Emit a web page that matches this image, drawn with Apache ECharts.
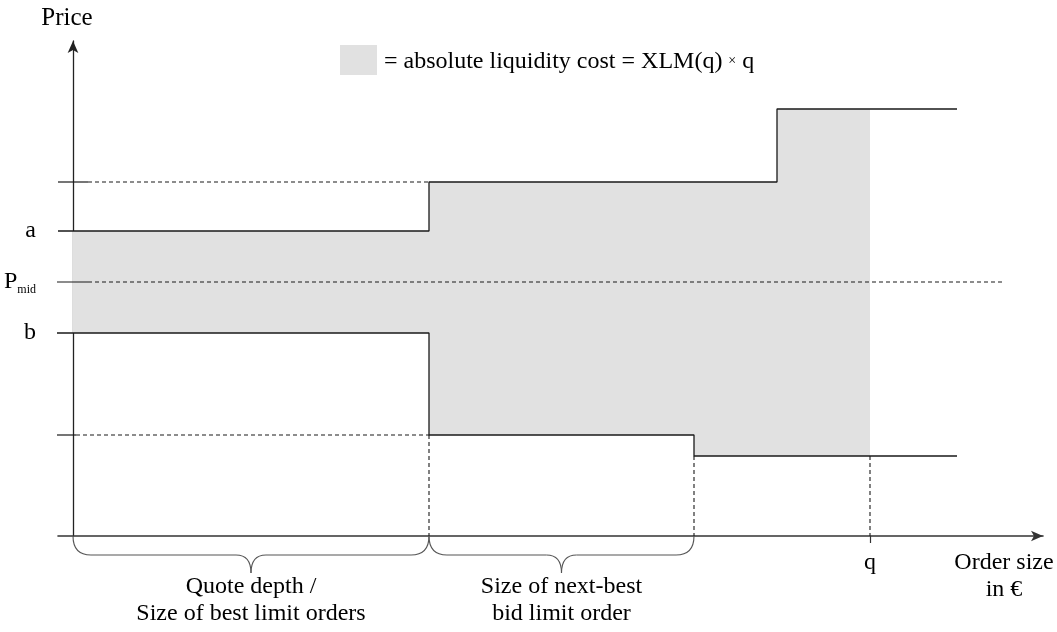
<!DOCTYPE html>
<html>
<head>
<meta charset="utf-8">
<script src="https://cdn.jsdelivr.net/npm/echarts@6/dist/echarts.min.js"></script>
<style>html,body{margin:0;padding:0;background:#fff;}#c{width:1057px;height:632px;}</style>
</head>
<body>
<div id="c"></div>
<script>
// ---- data (schematic units) ----
const askPrices = [61, 70.8, 85.4];      // a, next-best ask, third ask
const bidPrices = [40.6, 20.2, 16];      // b, next-best bid, third bid
const midPrice = 50.8;                   // P_mid
const askSteps = [35.6, 70.4];           // cumulative size where ask level changes
const bidSteps = [35.6, 62.1];           // cumulative size where bid level changes
const qSize = 79.7;                      // order size q
const bookEnd = 88.4;                    // end of drawn order book
const midEnd = 93.2;                     // end of P_mid guide
const yTickValues = [askPrices[0], midPrice, bidPrices[0]];
const yTickLabels = ['a', 'P{sub|mid}', 'b'];
const xTickValues = [qSize];
const xTickLabels = ['q'];
const braceRanges = [[0, bidSteps[0]], [bidSteps[0], bidSteps[1]]];
const braceLabels = ['Quote depth /\nSize of best limit orders', 'Size of next-best\nbid limit order'];
const legendText = '= absolute liquidity cost = XLM(q) {s|×} q';

const SERIF = "'Liberation Serif','Times New Roman',serif";
const LINE = '#1a1a1a';
const FILL = '#e1e1e1';
const FS = 24;

function askAt(x){ let i=0; while(i<askSteps.length && x>askSteps[i]) i++; return askPrices[i]; }
function bidAt(x){ let i=0; while(i<bidSteps.length && x>bidSteps[i]) i++; return bidPrices[i]; }

const askLine = [[-1.5, askPrices[0]], [askSteps[0], askPrices[0]], [askSteps[0], askPrices[1]],
                 [askSteps[1], askPrices[1]], [askSteps[1], askPrices[2]], [bookEnd, askPrices[2]]];
const bidLine = [[-2, bidPrices[0]], [bidSteps[0], bidPrices[0]], [bidSteps[0], bidPrices[1]],
                 [bidSteps[1], bidPrices[1]], [bidSteps[1], bidPrices[2]], [bookEnd, bidPrices[2]]];

// fill blocks between ask and bid up to q
const edges = [0].concat(askSteps, bidSteps).filter((v,i,a)=>a.indexOf(v)===i && v<qSize).sort((p,q)=>p-q).concat([qSize]);
const fillBlocks = [];
for (let i=0;i<edges.length-1;i++){ const m=(edges[i]+edges[i+1])/2; fillBlocks.push([edges[i], edges[i+1], bidAt(m), askAt(m)]); }

const dashed = [
  [[1.5, askPrices[1]], [askSteps[0], askPrices[1]]],
  [[1.5, midPrice], [midEnd, midPrice]],
  [[0.3, bidPrices[1]], [bidSteps[0], bidPrices[1]]],
  [[bidSteps[0], bidPrices[1]], [bidSteps[0], 0]],
  [[bidSteps[1], bidPrices[2]], [bidSteps[1], 0]],
  [[qSize, bidPrices[2]], [qSize, 0]]
];
const solidTicks = [
  [[-1.5, askPrices[1]], [1.5, askPrices[1]]],
  [[-1.8, midPrice], [1.5, midPrice]],
  [[-2.5, bidPrices[1]], [0.3, bidPrices[1]]]
];

const series = [];
series.push({
  name: legendText, type: 'custom', z: 1, clip: false,
  itemStyle: { color: FILL },
  data: fillBlocks,
  renderItem: function(params, api){
    const p0 = api.coord([api.value(0), api.value(3)]);
    const p1 = api.coord([api.value(1), api.value(2)]);
    const last = params.dataIndex === fillBlocks.length - 1;
    return { type: 'rect', shape: { x: p0[0], y: p0[1], width: p1[0]-p0[0] + (last ? 0 : 1), height: p1[1]-p0[1] }, style: { fill: FILL } };
  }
});
[askLine, bidLine].forEach(d => series.push({ type: 'line', data: d, symbol: 'none', clip: false, z: 4,
  lineStyle: { color: LINE, width: 1.3 }, animation: false }));
dashed.forEach(d => series.push({ type: 'line', data: d, symbol: 'none', clip: false, z: 3,
  lineStyle: { color: LINE, width: 1.1, type: [4, 3] }, animation: false }));
solidTicks.forEach(d => series.push({ type: 'line', data: d, symbol: 'none', clip: false, z: 3,
  lineStyle: { color: LINE, width: 1.2 }, animation: false }));
// braces
series.push({
  type: 'custom', z: 5, clip: false, silent: true,
  data: braceRanges.map((r,i)=>[r[0], r[1], i]),
  renderItem: function(params, api){
    const a = api.coord([api.value(0), 0]);
    const b = api.coord([api.value(1), 0]);
    const y0 = a[1], h = 19, tip = 37, r = 18, rt = 15;
    const xm = (a[0]+b[0])/2;
    const st = { stroke: '#555', lineWidth: 1.1, fill: null };
    const lbl = braceLabels[api.value(2)];
    return { type: 'group', children: [
      { type: 'bezierCurve', shape: { x1: a[0], y1: y0, cpx1: a[0], cpy1: y0+h, x2: a[0]+r, y2: y0+h }, style: st },
      { type: 'line', shape: { x1: a[0]+r, y1: y0+h, x2: xm-rt, y2: y0+h }, style: st },
      { type: 'bezierCurve', shape: { x1: xm-rt, y1: y0+h, cpx1: xm, cpy1: y0+h, x2: xm, y2: y0+tip }, style: st },
      { type: 'bezierCurve', shape: { x1: xm, y1: y0+tip, cpx1: xm, cpy1: y0+h, x2: xm+rt, y2: y0+h }, style: st },
      { type: 'line', shape: { x1: xm+rt, y1: y0+h, x2: b[0]-r, y2: y0+h }, style: st },
      { type: 'bezierCurve', shape: { x1: b[0]-r, y1: y0+h, cpx1: b[0], cpy1: y0+h, x2: b[0], y2: y0 }, style: st },
      { type: 'text', style: { text: lbl, x: xm, y: y0+64, align: 'center', verticalAlign: 'middle',
          fontFamily: SERIF, fontSize: FS, lineHeight: 27, fill: '#000' } }
    ]};
  }
});

const chart = echarts.init(document.getElementById('c'), null, { renderer: 'canvas' });
chart.setOption({
  animation: false,
  backgroundColor: '#fff',
  grid: { left: 58, right: 14, top: 41, bottom: 96, containLabel: false, outerBoundsMode: 'none' },
  legend: {
    left: 335, top: 40, itemWidth: 37, itemHeight: 30, icon: 'rect', selectedMode: false,
    data: [{ name: legendText, itemStyle: { color: FILL, borderWidth: 0 } }],
    formatter: () => legendText,
    textStyle: { fontFamily: SERIF, fontSize: FS, color: '#000', padding: [3, 0, 0, 2], rich: { s: { fontFamily: SERIF, fontSize: 14, color: '#000' } } }
  },
  xAxis: {
    type: 'value', min: -1.5, max: 97, splitLine: { show: false },
    axisLine: { onZero: true, symbol: ['none', 'arrow'], symbolSize: [8, 12], lineStyle: { color: '#333', width: 1.6 } },
    axisTick: { show: true, customValues: xTickValues, length: 7, lineStyle: { color: '#333', width: 1.2 } },
    axisLabel: { customValues: xTickValues, formatter: v => xTickLabels[xTickValues.indexOf(v)] || '', margin: 15,
      fontFamily: SERIF, fontSize: FS, color: '#000' }
  },
  yAxis: {
    type: 'value', min: 0, max: 99, splitLine: { show: false },
    name: 'Price', nameLocation: 'end', nameGap: 10,
    nameTextStyle: { fontFamily: SERIF, fontSize: 25, color: '#000', align: 'center', padding: [0, 12, 0, 0] },
    axisLine: { onZero: true, symbol: ['none', 'arrow'], symbolSize: [8, 12], lineStyle: { color: '#222', width: 1.3 } },
    axisTick: { show: false },
    axisLabel: { customValues: yTickValues, formatter: v => yTickLabels[yTickValues.indexOf(v)] || '', margin: 22, align: 'right',
      fontFamily: SERIF, fontSize: FS, color: '#000',
      rich: { sub: { fontFamily: SERIF, fontSize: 12, color: '#000', padding: [15, 0, 0, 0] } } }
  },
  graphic: [
    { type: 'text', x: 1004, y: 549, style: { text: 'Order size\nin €', fontFamily: SERIF, fontSize: FS, lineHeight: 27, fill: '#000', align: 'center', verticalAlign: 'top' } }
  ],
  series: series
});
</script>
</body>
</html>
